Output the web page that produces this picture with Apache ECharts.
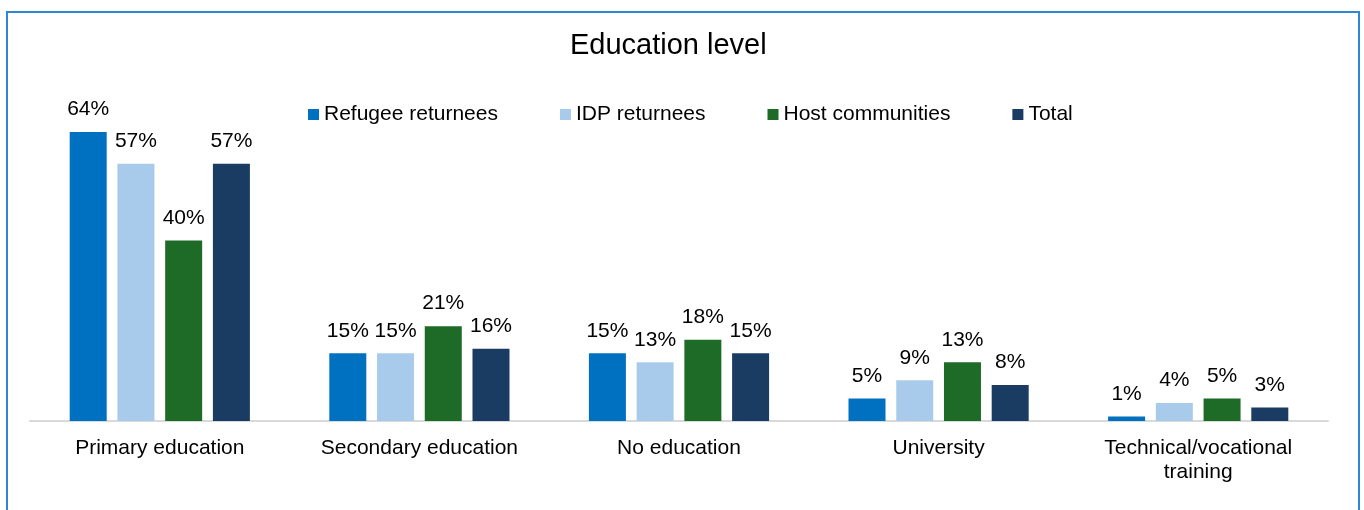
<!DOCTYPE html>
<html>
<head>
<meta charset="utf-8">
<script src="https://cdn.jsdelivr.net/npm/echarts@6/dist/echarts.min.js"></script>
<style>
  html, body { margin: 0; padding: 0; background: #fff; }
  #chart { width: 1364px; height: 510px; }
</style>
</head>
<body>
<div id="chart"></div>
<script>
const categories = ['Primary education', 'Secondary education', 'No education', 'University', 'Technical/vocational\ntraining'];
const refugeeReturnees = [64, 15, 15, 5, 1];
const idpReturnees = [57, 15, 13, 9, 4];
const hostCommunities = [40, 21, 18, 13, 5];
const total = [57, 16, 15, 8, 3];

const font = '"Liberation Sans", Arial, sans-serif';
const chart = echarts.init(document.getElementById('chart'));

function bar(name, data, color) {
  return {
    name,
    type: 'bar',
    data,
    barWidth: 37,
    barGap: '29%',
    itemStyle: { color },
    label: {
      show: true,
      position: 'top',
      distance: 12,
      formatter: '{c}%',
      color: '#000',
      fontSize: 21,
      fontFamily: font
    }
  };
}

chart.setOption({
  animation: false,
  backgroundColor: '#fff',
  graphic: [{
    type: 'rect',
    shape: { x: 7, y: 12, width: 1352, height: 530 },
    style: { fill: 'none', stroke: '#2e86d6', lineWidth: 2 },
    silent: true
  }],
  title: {
    text: 'Education level',
    left: 565,
    top: 26,
    textStyle: { color: '#000', fontSize: 29, fontWeight: 'normal', fontFamily: font }
  },
  legend: {
    left: 303,
    top: 99,
    itemWidth: 11,
    itemHeight: 11,
    itemGap: 62,
    icon: 'rect',
    textStyle: { color: '#000', fontSize: 21, fontFamily: font },
    data: ['Refugee returnees', 'IDP returnees', 'Host communities', 'Total']
  },
  grid: { left: 30, right: 36, top: 105, bottom: 89 },
  xAxis: {
    type: 'category',
    data: categories,
    axisTick: { show: false },
    axisLine: { lineStyle: { color: '#d9d9d9', width: 2 } },
    axisLabel: { color: '#000', fontSize: 21, fontFamily: font, margin: 15, lineHeight: 24, interval: 0 }
  },
  yAxis: {
    type: 'value',
    min: 0,
    max: 70,
    show: false,
    splitLine: { show: false }
  },
  series: [
    bar('Refugee returnees', refugeeReturnees, '#0070c0'),
    bar('IDP returnees', idpReturnees, '#a9cbeb'),
    bar('Host communities', hostCommunities, '#1d6b26'),
    bar('Total', total, '#1a3c63')
  ]
});
</script>
</body>
</html>
